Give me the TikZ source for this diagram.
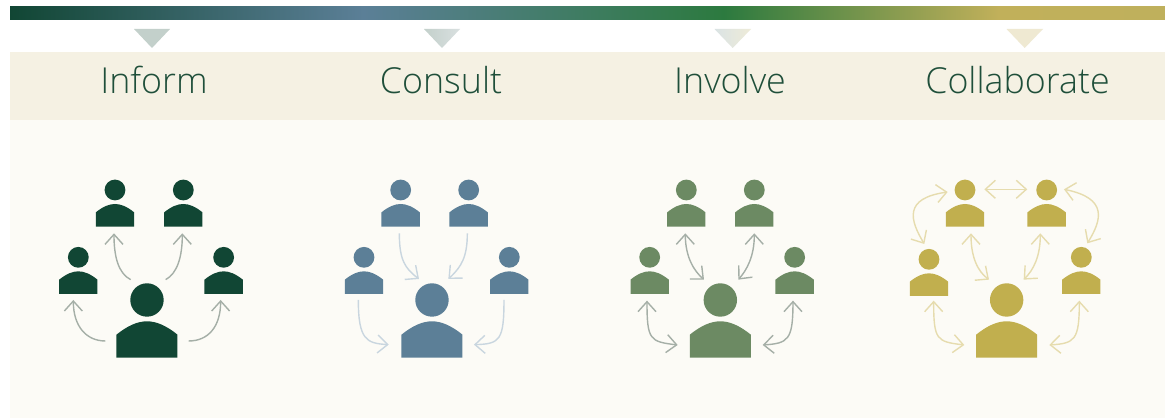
\documentclass[tikz,border=0pt]{standalone}
\usepackage{fontspec}
\setmainfont{Open Sans}[UprightFont={* Light}]
\usetikzlibrary{arrows.meta}
\definecolor{cdark}{HTML}{114634}
\definecolor{cblue}{HTML}{5C7F97}
\definecolor{cgreen}{HTML}{6C8A63}
\definecolor{cgold}{HTML}{C1AF4E}
\definecolor{cband}{HTML}{F5F1E3}
\definecolor{cpanel}{HTML}{FCFBF6}
\definecolor{ctext}{HTML}{1F4F3A}
\definecolor{garrow}{HTML}{A5AFA7}
\definecolor{barrow}{HTML}{C9D6DF}
\definecolor{yarrow}{HTML}{E6DCAE}
\pgfdeclarehorizontalshading{barshade}{100bp}{%
 rgb(0bp)=(0.067,0.275,0.204);
 rgb(25bp)=(0.067,0.275,0.204);
 rgb(40.3bp)=(0.357,0.498,0.592);
 rgb(55.9bp)=(0.173,0.478,0.247);
 rgb(67.8bp)=(0.757,0.690,0.353);
 rgb(75bp)=(0.749,0.690,0.361);
 rgb(100bp)=(0.749,0.690,0.361)}
\pgfdeclarehorizontalshading{tritwo}{100bp}{rgb(0bp)=(0.765,0.816,0.796); rgb(25bp)=(0.765,0.816,0.796); rgb(75bp)=(0.851,0.878,0.878); rgb(100bp)=(0.851,0.878,0.878)}
\pgfdeclarehorizontalshading{trithree}{100bp}{rgb(0bp)=(0.855,0.890,0.894); rgb(25bp)=(0.855,0.890,0.894); rgb(75bp)=(0.933,0.922,0.847); rgb(100bp)=(0.933,0.922,0.847)}
\tikzset{
 pmark/.style={inner sep=0pt,minimum size=0pt,outer sep=0pt},
 head/.style={font=\fontsize{35.8}{36}\selectfont,text=ctext,anchor=base,inner sep=0pt},
 conn/.style={line width=1.4pt,line join=miter},
 one/.style={conn,-{Straight Barb[length=10pt,width=18pt,line width=1.4pt]}},
 two/.style={conn,{Straight Barb[length=10pt,width=18pt,line width=1.4pt]}-{Straight Barb[length=10pt,width=18pt,line width=1.4pt]}},
}
% name, x, y, colour, radius, half width, top, shoulder, bottom
\newcommand{\personshape}[9]{%
 \node[pmark] (#1) at (#2,#3) {};
 \begin{scope}[shift={(#2,#3)}]
  \fill[#4] (0,0) circle[radius=#5pt];
  \pgfmathsetmacro{\hwa}{0.62*#6}\pgfmathsetmacro{\hwb}{0.3*#6}\pgfmathsetmacro{\ymid}{#7+0.3*(#8-#7)}
  \fill[#4] (-#6,#9) -- (-#6,#8) .. controls (-\hwa,\ymid) and (-\hwb,#7) .. (0,#7)
     .. controls (\hwb,#7) and (\hwa,\ymid) .. (#6,#8) -- (#6,#9) -- cycle;
 \end{scope}}
\newcommand{\lilp}[4]{\personshape{#1}{#2}{#3}{#4}{10.4}{57.5}{42}{67}{110}}
\newcommand{\bigp}[4]{\personshape{#1}{#2}{#3}{#4}{16.7}{91.5}{64}{104}{173}}
\begin{document}
\begin{tikzpicture}[x=1pt,y=-1pt]
\useasboundingbox (0,0) rectangle (1165,419);
\fill[white] (0,0) rectangle (1165,419);
\fill[cpanel] (10,120) rectangle (1165,418);
\fill[cband] (10,52) rectangle (1165,120);
\shade[shading=barshade] (10,7) rectangle (1165,20);
% triangles
\fill[fill={rgb,255:red,195;green,208;blue,203}] (134,29) -- (170,29) -- (152,48) -- cycle;
\shade[shading=tritwo] (424,29) -- (460,29) -- (442,48) -- cycle;
\shade[shading=trithree] (714.5,29) -- (751,29) -- (732.7,48) -- cycle;
\fill[fill={rgb,255:red,239;green,233;blue,210}] (1006.5,29) -- (1043,29) -- (1024.7,48) -- cycle;
% headings
\node[head] (t1) at (154,94) {Inform};
\node[head] (t2) at (441,94) {Consult};
\node[head] (t3) at (730,94) {Involve};
\node[head] (t4) at (1017.5,94) {Collaborate};
% --- Inform ---
\begin{scope}[shift={(40,170)},x=0.3333pt,y=-0.3333pt]
 \lilp{ia}{225}{60}{cdark}\lilp{ib}{430}{60}{cdark}\lilp{ic}{115}{262}{cdark}\lilp{id}{551}{262}{cdark}\bigp{ie}{321}{390}{cdark}
 \begin{scope}[garrow]
 \draw[one] ([shift={(-49,-61)}]ie.center) .. controls (235,310) and (222,260) .. ([shift={(-3,130)}]ia.center);
 \draw[one] ([shift={(56,-61)}]ie.center) .. controls (412,310) and (427,260) .. ([shift={(-3,130)}]ib.center);
 \draw[one] ([shift={(-125,123)}]ie.center) .. controls (140,513) and (100,470) .. ([shift={(-15,128)}]ic.center);
 \draw[one] ([shift={(125,123)}]ie.center) .. controls (505,513) and (542,470) .. ([shift={(-9,128)}]id.center);
 \end{scope}
\end{scope}
% --- Consult ---
\begin{scope}[shift={(330,170)},x=0.3333pt,y=-0.3333pt]
 \lilp{ca}{212}{60}{cblue}\lilp{cb}{416}{60}{cblue}\lilp{cc}{102}{262}{cblue}\lilp{cd}{538}{262}{cblue}\bigp{ce}{306}{390}{cblue}
 \begin{scope}[barrow]
 \draw[one] ([shift={(-4,130)}]ca.center) .. controls (208,270) and (225,295) .. ([shift={(-39,-63)}]ce.center);
 \draw[one] ([shift={(-4,130)}]cb.center) .. controls (412,260) and (395,290) .. ([shift={(49,-63)}]ce.center);
 \draw[one] ([shift={(-17,128)}]cc.center) .. controls (85,510) and (110,520) .. ([shift={(-130,134)}]ce.center);
 \draw[one] ([shift={(-16,128)}]cd.center) .. controls (522,510) and (510,522) .. ([shift={(126,134)}]ce.center);
 \end{scope}
\end{scope}
% --- Involve ---
\begin{scope}[shift={(615,170)},x=0.3333pt,y=-0.3333pt]
 \lilp{va}{214}{60}{cgreen}\lilp{vb}{418}{60}{cgreen}\lilp{vc}{104}{262}{cgreen}\lilp{vd}{539}{262}{cgreen}\bigp{ve}{316}{390}{cgreen}
 \begin{scope}[garrow]
 \draw[two] ([shift={(-3,130)}]va.center) .. controls (211,265) and (240,305) .. ([shift={(-49,-61)}]ve.center);
 \draw[two] ([shift={(0,130)}]vb.center) .. controls (418,260) and (395,300) .. ([shift={(54,-61)}]ve.center);
 \draw[two] ([shift={(-8,130)}]vc.center) .. controls (96,510) and (105,515) .. ([shift={(-128,135)}]ve.center);
 \draw[two] ([shift={(-5,130)}]vd.center) .. controls (534,510) and (520,520) .. ([shift={(127,135)}]ve.center);
 \end{scope}
\end{scope}
% --- Collaborate ---
\begin{scope}[shift={(895,170)},x=0.3333pt,y=-0.3333pt]
 \lilp{la}{210}{60}{cgold}\lilp{lb}{455}{60}{cgold}\lilp{lc}{102}{268}{cgold}\lilp{ld}{559}{262}{cgold}\bigp{le}{335}{390}{cgold}
 \begin{scope}[yarrow]
 \draw[two] ([shift={(58,-2)}]la.center) -- ([shift={(-58,-2)}]lb.center);
 \draw[two] ([shift={(-52,6)}]la.center) .. controls (25,85) and (45,150) .. ([shift={(-14,-46)}]lc.center);
 \draw[two] ([shift={(52,-2)}]lb.center) .. controls (640,85) and (620,150) .. ([shift={(18,-42)}]ld.center);
 \draw[two] ([shift={(18,130)}]la.center) .. controls (228,265) and (250,305) .. ([shift={(-53,-61)}]le.center);
 \draw[two] ([shift={(-19,130)}]lb.center) .. controls (436,260) and (415,300) .. ([shift={(51,-61)}]le.center);
 \draw[two] ([shift={(14,124)}]lc.center) .. controls (116,510) and (125,515) .. ([shift={(-127,135)}]le.center);
 \draw[two] ([shift={(-6,130)}]ld.center) .. controls (553,510) and (540,520) .. ([shift={(128,135)}]le.center);
 \end{scope}
\end{scope}
\end{tikzpicture}
\end{document}
